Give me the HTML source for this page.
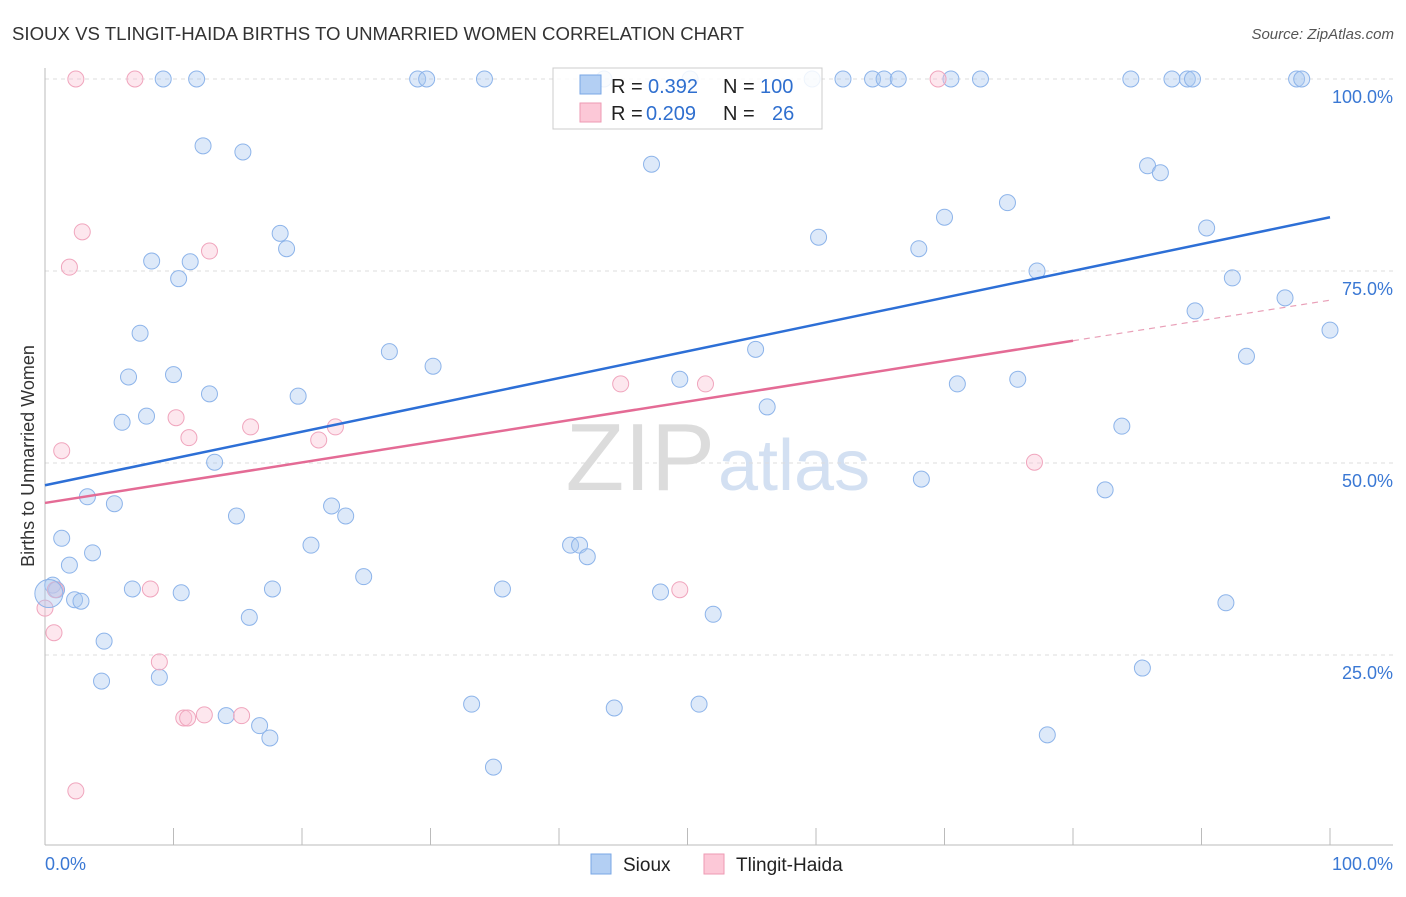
<!DOCTYPE html>
<html><head><meta charset="utf-8"><style>
body{margin:0;background:#fff;font-family:"Liberation Sans",sans-serif;}
svg text{font-family:"Liberation Sans",sans-serif;}
</style></head><body>
<svg id="c" width="1406" height="892">
<text x="12" y="40" font-size="18" fill="#333" textLength="732" lengthAdjust="spacingAndGlyphs">SIOUX VS TLINGIT-HAIDA BIRTHS TO UNMARRIED WOMEN CORRELATION CHART</text>
<text x="1394" y="39" font-size="15" fill="#555" font-style="italic" text-anchor="end">Source: ZipAtlas.com</text>
<text x="34" y="456" font-size="18" fill="#333" transform="rotate(-90 34 456)" text-anchor="middle">Births to Unmarried Women</text>
<text x="715" y="490" font-size="96" fill="#dcdcdc" text-anchor="end" font-family="Liberation Serif">ZIP</text>
<text x="718" y="490" font-size="72" fill="#d3e0f2">atlas</text>
<g id="grid"></g><g id="pts"></g><g id="lines"></g>
<g>
<rect x="553" y="68" width="269" height="61" fill="rgba(255,255,255,0.85)" stroke="#ccc"/>
<rect x="580" y="75" width="21" height="19" fill="#b3cff3" stroke="#7aa7e6"/>
<rect x="580" y="103" width="21" height="19" fill="#fcc8d7" stroke="#ee9ab3"/>
<text x="611" y="93" font-size="20" fill="#222">R =</text>
<text x="648" y="93" font-size="20" fill="#2f6fcf">0.392</text>
<text x="723" y="93" font-size="20" fill="#222">N =</text>
<text x="760" y="93" font-size="20" fill="#2f6fcf">100</text>
<text x="611" y="120" font-size="20" fill="#222">R =</text>
<text x="646" y="120" font-size="20" fill="#2f6fcf">0.209</text>
<text x="723" y="120" font-size="20" fill="#222">N =</text>
<text x="772" y="120" font-size="20" fill="#2f6fcf">26</text>
</g>
<g>
<rect x="591" y="854" width="20" height="20" fill="#b3cff3" stroke="#7aa7e6"/>
<text x="623" y="871" font-size="19" fill="#222">Sioux</text>
<rect x="704" y="854" width="20" height="20" fill="#fcc8d7" stroke="#ee9ab3"/>
<text x="736" y="871" font-size="19" fill="#222">Tlingit-Haida</text>
</g>
<text x="45" y="870" font-size="18" fill="#3a78d4">0.0%</text>
<text x="1393" y="870" font-size="18" fill="#3a78d4" text-anchor="end">100.0%</text>
</svg>
<script>
const yTicks=[100,75,50,25];
const yTickLabels=["100.0%","75.0%","50.0%","25.0%"];
const siouxPx=[[163,79],[197,79],[418,79],[427,79],[484,79],[604,79],[690,79],[812,79],[843,79],[872,79],[884,79],[898,79],[951,79],[981,79],[1131,79],[1172,79],[1188,79],[1192,79],[1296,79],[1302,79],[203,146],[243,152],[652,164],[1148,166],[1161,173],[1007,203],[944,217],[280,233],[286,249],[1207,228],[819,237],[919,249],[152,261],[190,262],[178,279],[1037,271],[1232,278],[1285,298],[1195,311],[1330,330],[140,333],[390,352],[755,349],[1247,356],[433,366],[128,377],[173,375],[680,379],[1018,379],[957,384],[209,394],[298,396],[767,407],[146,416],[122,422],[1122,426],[214,462],[922,479],[1105,490],[88,497],[115,504],[332,506],[346,516],[236,516],[62,538],[93,553],[311,545],[570,545],[580,545],[587,557],[69,565],[364,577],[53,585],[56,590],[132,589],[273,589],[503,589],[181,593],[660,592],[75,600],[81,601],[1226,603],[713,614],[249,617],[104,641],[1142,668],[159,677],[101,681],[471,704],[699,704],[614,708],[226,716],[260,726],[270,738],[1047,735],[493,767]];
const tlingitPx=[[76,79],[135,79],[938,79],[82,232],[69,267],[209,251],[62,451],[176,418],[189,438],[251,427],[336,427],[319,440],[621,384],[705,384],[1034,462],[54,633],[45,608],[151,589],[680,590],[160,662],[184,718],[187,718],[204,715],[241,716],[76,791],[55,590]];
const siouxX=siouxPx.map(p=>+((p[0]-45)/12.85).toFixed(1));
const siouxY=siouxPx.map(p=>+((847-p[1])/7.68).toFixed(1));
const tlingitX=tlingitPx.map(p=>+((p[0]-45)/12.85).toFixed(1));
const tlingitY=tlingitPx.map(p=>+((847-p[1])/7.68).toFixed(1));
const siouxTrend=[47.1,82.0];
const tlingitTrend=[44.8,71.2];
const X=v=>45+v*12.85, Y=v=>847-v*7.68;
const NS="http://www.w3.org/2000/svg";
function mk(par,tag,at){const e=document.createElementNS(NS,tag);for(const k in at)e.setAttribute(k,at[k]);document.getElementById(par).appendChild(e);return e;}
yTicks.forEach((t,i)=>{
 const l=mk('grid','line',{x1:45,x2:1393,y1:Y(t),y2:Y(t),stroke:'#ddd','stroke-dasharray':'4,4'});
 
 
 const tx=mk('grid','text',{x:1393,y:Y(t)+24,'font-size':18,fill:'#3a78d4','text-anchor':'end'});tx.textContent=yTickLabels[i];
 
 
});
const ax=mk('grid','line',{x1:45,x2:45,y1:68,y2:845,stroke:'#bbb'});


const bx=mk('grid','line',{x1:45,x2:1393,y1:845,y2:845,stroke:'#bbb'});


for(let i=1;i<=10;i++){const t=mk('grid','line',{x1:X(i*10),x2:X(i*10),y1:828,y2:845,stroke:'#bbb'});
 
 }
siouxX.forEach((x,i)=>{const c=mk('pts','circle',{cx:X(x),cy:Y(siouxY[i]),r:8,fill:'rgba(170,200,240,0.4)',stroke:'#8db4ea','stroke-width':1});
 
 });
tlingitX.forEach((x,i)=>{const c=mk('pts','circle',{cx:X(x),cy:Y(tlingitY[i]),r:8,fill:'rgba(250,195,212,0.4)',stroke:'#f0a5bd','stroke-width':1});
 
 });
const big=mk('pts','circle',{cx:X(0.3),cy:Y(33),r:14,fill:'rgba(170,200,240,0.4)',stroke:'#8db4ea'});


const sl=mk('lines','line',{x1:X(0),y1:Y(siouxTrend[0]),x2:X(100),y2:Y(siouxTrend[1]),stroke:'#2d6fd6','stroke-width':2.5});


const ty=v=>tlingitTrend[0]+(tlingitTrend[1]-tlingitTrend[0])*v/100;
const tl=mk('lines','line',{x1:X(0),y1:Y(ty(0)),x2:X(80),y2:Y(ty(80)),stroke:'#e46b95','stroke-width':2.5});


const td=mk('lines','line',{x1:X(80),y1:Y(ty(80)),x2:X(100),y2:Y(ty(100)),stroke:'#e9a0b8','stroke-width':1.2,'stroke-dasharray':'6,5'});


</script>
</body></html>
